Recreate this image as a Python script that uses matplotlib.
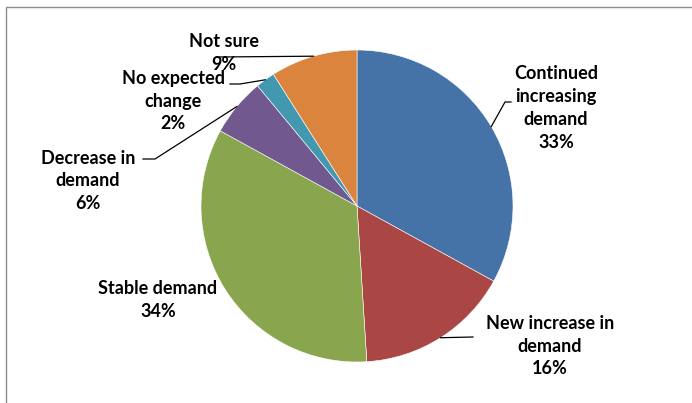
import numpy as np
import matplotlib
matplotlib.use("Agg")
from matplotlib import pyplot as plt
from matplotlib.patches import Rectangle

labels = ['Continued\nincreasing\ndemand', 'New increase in\ndemand', 'Stable demand',
          'Decrease in\ndemand', 'No expected\nchange', 'Not sure']
values = [33, 16, 34, 6, 2, 9]
colors = ['#4572A7', '#AA4643', '#89A54E', '#71588F', '#4198AF', '#DB843D']

# label centre (x, y top-down) and leader elbow for each slice, None where no leader
label_pos = [(556, 108), (550, 346), (158, 300), (88, 181), (173, 101), (224, 53)]
elbows = [[(505, 102), (511, 102)], [(473, 337)], None, [(155, 159), (143, 159)],
          [(240, 84), (230, 84)], [(217, 57)]]

W, H = 692, 403
fig = plt.figure(figsize=(W / 100, H / 100), dpi=100)
ax = fig.add_axes([0, 0, 1, 1])

cx, cy, r = 357, H - 206, 156
wedges, _ = ax.pie(values, colors=colors, startangle=90, counterclock=False,
                   center=(cx, cy), radius=r, frame=True,
                   wedgeprops=dict(edgecolor='white', linewidth=0.4))
ax.set_xlim(0, W)
ax.set_ylim(0, H)
ax.set_aspect('equal')
ax.axis('off')

for i, w in enumerate(wedges):
    tx, ty = label_pos[i]
    pct = f'{values[i]}%'
    ax.text(tx, H - ty, labels[i] + '\n' + pct, ha='center', va='center',
            fontsize=13, fontweight='bold', family='Lato', linespacing=1.42,
            color='black', zorder=5)
    if elbows[i] is not None:
        mid = np.deg2rad((w.theta1 + w.theta2) / 2)
        pts = [(cx + r * np.cos(mid), cy + r * np.sin(mid))]
        pts += [(x, H - y) for x, y in elbows[i]]
        xs, ys = zip(*pts)
        ax.plot(xs, ys, color='black', lw=0.9)

# chart frame
fig.add_artist(Rectangle((6 / W, -0.1), 1.2, (H - 7) / H + 0.1, transform=fig.transFigure,
                         fill=False, edgecolor='#8c8c8c', lw=1.0))

fig.savefig('out.png', dpi=100, facecolor='white')
